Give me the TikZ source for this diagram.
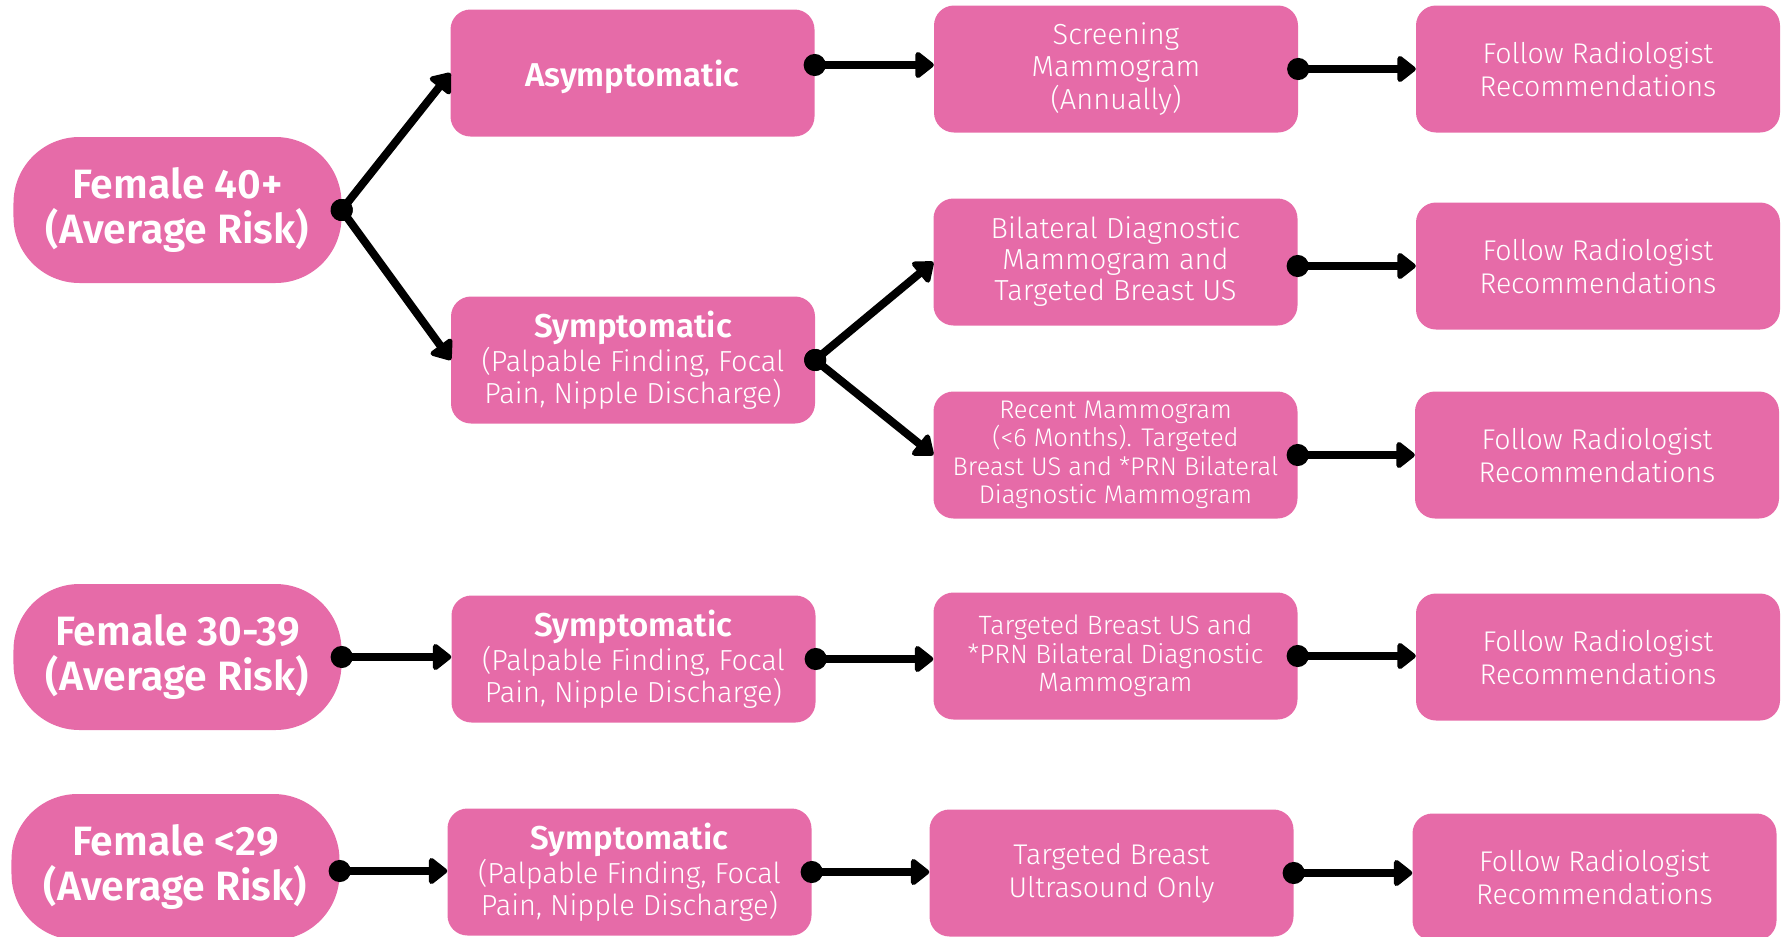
\documentclass[tikz,border=0pt]{standalone}
\usepackage{fontspec}
\setmainfont{Fira Sans}[UprightFont=* Light, BoldFont=* SemiBold]
\usetikzlibrary{arrows.meta}
\definecolor{pinkbox}{HTML}{E66BA8}
\tikzset{
  box/.style={fill=pinkbox, text=white, rounded corners=20bp, minimum width=364bp, minimum height=127bp, inner sep=0pt, align=center},
  pill/.style={fill=pinkbox, text=white, rounded corners=66bp, minimum width=328bp, minimum height=146bp, inner sep=0pt, align=center, font=\bfseries\fontsize{41bp}{45bp}\selectfont},
  txt/.style={font=\fontsize{28.5bp}{33bp}\selectfont},
  symp/.style={font=\fontsize{29bp}{32bp}\selectfont},
  con/.style={line width=8bp, {Circle[length=22bp]}-{Triangle[length=20bp,width=30bp,round]}, shorten <=-11bp},
}
\newcommand{\symptxt}{{\bfseries\fontsize{33bp}{37bp}\selectfont Symptomatic}\\[2bp](Palpable Finding, Focal\\Pain, Nipple Discharge)}
\begin{document}
\begin{tikzpicture}[x=1bp,y=-1bp]
\useasboundingbox (0,0) rectangle (1782,936);
% column 1
\node[pill] (f40) at (177.5,210) {Female 40+\\(Average Risk)};
\node[pill] (f30) at (177.5,657) {Female 30-39\\(Average Risk)};
\node[pill] (f29) at (175.5,867) {Female <29\\(Average Risk)};
% column 2
\node[box, text height=30bp, text depth=3bp, font=\bfseries\fontsize{33bp}{37bp}\selectfont] (asym) at (632.5,73) {Asymptomatic};
\node[box, symp] (symp1) at (633,360) {\symptxt};
\node[box, symp] (symp2) at (633.5,659) {\symptxt};
\node[box, symp] (symp3) at (629.5,872) {\symptxt};
% column 3
\node[box, font=\fontsize{29bp}{32.5bp}\selectfont] (screen) at (1116,69) {Screening\\Mammogram\\(Annually)};
\node[box, font=\fontsize{29bp}{31bp}\selectfont] (bil) at (1115.5,262) {Bilateral Diagnostic\\Mammogram and\\Targeted Breast US};
\node[box, font=\fontsize{25.5bp}{28.4bp}\selectfont] (rec) at (1115.5,455) {Recent Mammogram\\(<6 Months). Targeted\\Breast US and *PRN Bilateral\\Diagnostic Mammogram};
\node[box, font=\fontsize{26.5bp}{28.4bp}\selectfont] (tus) at (1115.5,656) {Targeted Breast US and\\*PRN Bilateral Diagnostic\\Mammogram};
\node[box, txt] (tbuo) at (1111.5,873) {Targeted Breast\\Ultrasound Only};
% column 4
\node[box, txt] (fol1) at (1598,69) {Follow Radiologist\\Recommendations};
\node[box, txt] (fol2) at (1598,266) {Follow Radiologist\\Recommendations};
\node[box, txt] (fol3) at (1597,455) {Follow Radiologist\\Recommendations};
\node[box, txt] (fol4) at (1598,657) {Follow Radiologist\\Recommendations};
\node[box, txt] (fol5) at (1594.5,877) {Follow Radiologist\\Recommendations};
% connectors
\draw[con] (f40.east) -- (asym.west);
\draw[con] (f40.east) -- (symp1.west);
\draw[con] ([yshift=8bp]asym.east) -- ([yshift=8bp]asym.east -| screen.west);
\draw[con] (screen.east) -- (screen.east -| fol1.west);
\draw[con] (symp1.east) -- (bil.west);
\draw[con] (symp1.east) -- (rec.west);
\draw[con] ([yshift=-4bp]bil.east) -- ([yshift=-4bp]bil.east -| fol2.west);
\draw[con] (rec.east) -- (rec.east -| fol3.west);
\draw[con] (f30.east) -- (f30.east -| symp2.west);
\draw[con] (symp2.east) -- (symp2.east -| tus.west);
\draw[con] (tus.east) -- (tus.east -| fol4.west);
\draw[con] ([yshift=-4bp]f29.east) -- ([yshift=-4bp]f29.east -| symp3.west);
\draw[con] (symp3.east) -- (symp3.east -| tbuo.west);
\draw[con] (tbuo.east) -- (tbuo.east -| fol5.west);
\end{tikzpicture}
\end{document}
